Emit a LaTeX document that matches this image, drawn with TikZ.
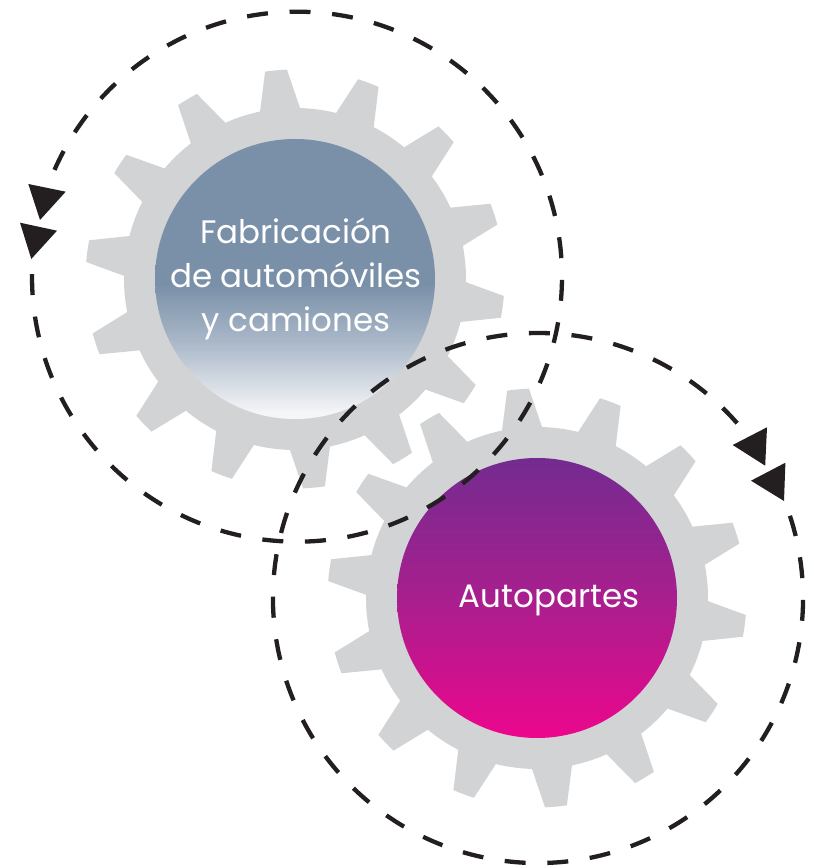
\documentclass[tikz,border=0pt]{standalone}
\usepackage{fontspec}
\setmainfont{Poppins}
\definecolor{gearc}{HTML}{D1D3D4}
\definecolor{inkc}{HTML}{231F20}
\definecolor{bA}{HTML}{F5F6F8}
\definecolor{bB}{HTML}{D2D9E2}
\definecolor{bC}{HTML}{A9B7C8}
\definecolor{bD}{HTML}{7A90A8}
\definecolor{pA}{HTML}{EC068D}
\definecolor{pB}{HTML}{A81F8E}
\definecolor{pC}{HTML}{732B90}
\pgfdeclareverticalshading{bluesh}{100bp}{color(0bp)=(bA);color(26bp)=(bA);color(32bp)=(bB);color(39bp)=(bC);color(49bp)=(bD);color(100bp)=(bD)}
\pgfdeclareverticalshading{purpsh}{100bp}{color(0bp)=(pA);color(25bp)=(pA);color(50bp)=(pB);color(75bp)=(pC);color(100bp)=(pC)}
\tikzset{
  dashring/.style={draw=inkc,line width=4.3pt,dash pattern=on 21pt off 21.69pt},
  headtip/.style={fill=inkc},
  gearfill/.style={fill=gearc},
  disclabel/.style={text=white,align=center,font=\fontsize{32.5}{44}\selectfont,inner sep=0pt},
}
\newcommand{\gearshape}[1]{%
  \begin{scope}[shift={(#1)}]
    \fill[gearfill] (0,0) circle[radius=171];
    \foreach \k in {0,...,13}{
      \pgfmathsetmacro{\aa}{101.8-25.714*\k}
      \pgfmathsetmacro{\ab}{98.2-25.714*\k}
      \pgfmathsetmacro{\ac}{92.2-25.714*\k}
      \pgfmathsetmacro{\ad}{88.3-25.714*\k}
      \fill[gearfill] (\aa:166) -- (\aa:171) -- (\ab:209.5) arc[start angle=\ab,end angle=\ac,radius=209.5] -- (\ad:171) -- (\ad:166) -- cycle;
    }
  \end{scope}}
\begin{document}
\begin{tikzpicture}[x=1pt,y=1pt]
\useasboundingbox (0,0) rectangle (814,868);
\coordinate (gA) at (295,589);
\coordinate (gB) at (537,270);
\coordinate (rA) at (297,591.3);
\coordinate (rB) at (538,270);
\gearshape{gA}
\gearshape{gB}
\shade[shading=bluesh] (gA) circle[radius=140];
\shade[shading=purpsh] (gB) circle[radius=140];
\node[disclabel] (fab) at (296,589.5) {Fabricación\\de automóviles\\y camiones};
\node[disclabel] (auto) at (549,268) {Autopartes};
% dashed rings
\draw[dashring] (rA) ++(179.43:265) arc[start angle=179.43,end angle=516.27,radius=265];
\draw[dashring] (rB) ++(18.07:265) arc[start angle=18.07,end angle=-318.77,radius=265];
% arrow heads
\fill[headtip] (28.3,684) -- (65.7,676.3) -- (40,648) -- cycle;
\fill[headtip] (20,645.3) -- (57,637.3) -- (31.3,609) -- cycle;
\fill[headtip] (732.7,423) -- (767,440.7) -- (765.2,402.3) -- cycle;
\fill[headtip] (751,387.3) -- (785.4,405.3) -- (784,367) -- cycle;
\end{tikzpicture}
\end{document}
